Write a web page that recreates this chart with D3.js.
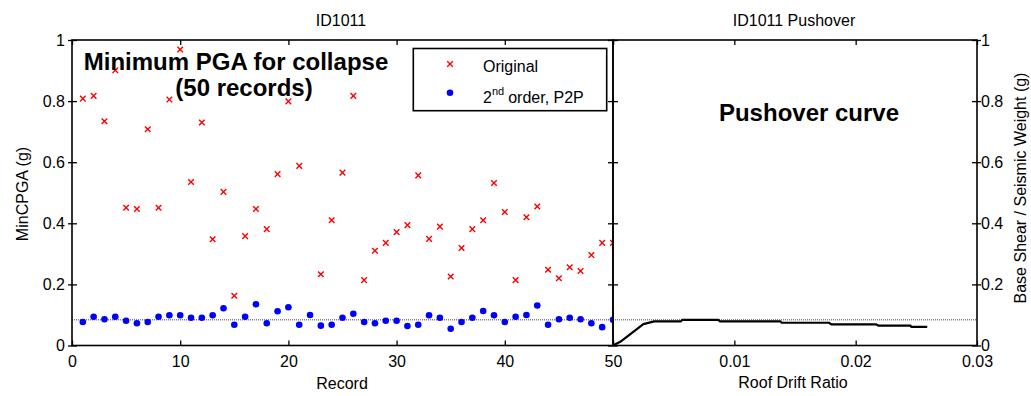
<!DOCTYPE html>
<html><head><meta charset="utf-8">
<script src="https://cdn.jsdelivr.net/npm/d3@7"></script>
<style>
body{margin:0;background:#fff;}
text{font-family:"Liberation Sans",Arial,sans-serif;}
</style></head>
<body>
<svg id="c" width="1031" height="396"></svg>
<script>
// ---- data ----
const records = [1,2,3,4,5,6,7,8,9,10,11,12,13,14,15,16,17,18,19,20,21,22,23,24,25,26,27,28,29,30,31,32,33,34,35,36,37,38,39,40,41,42,43,44,45,46,47,48,49,50];
const original = [0.808,0.817,0.734,0.901,0.451,0.447,0.708,0.451,0.805,0.969,0.535,0.730,0.348,0.503,0.163,0.358,0.447,0.381,0.561,0.799,0.588,1.05,0.233,0.410,0.566,0.817,0.214,0.310,0.336,0.371,0.394,0.557,0.349,0.389,0.226,0.319,0.381,0.410,0.532,0.437,0.214,0.420,0.455,0.248,0.220,0.256,0.244,0.296,0.336,0.336];
const secondOrder = [0.077,0.094,0.086,0.094,0.081,0.073,0.077,0.094,0.099,0.099,0.091,0.091,0.099,0.122,0.068,0.094,0.135,0.073,0.112,0.125,0.068,0.100,0.065,0.068,0.091,0.104,0.077,0.073,0.081,0.081,0.064,0.068,0.099,0.091,0.055,0.077,0.091,0.113,0.099,0.077,0.094,0.100,0.131,0.068,0.086,0.091,0.086,0.073,0.060,0.084];
const refLevel = 0.084;
const pushDrift = [0,0.0006,0.0025,0.0034,0.0056,0.0057,0.0087,0.0088,0.0138,0.0139,0.0178,0.0180,0.0217,0.0219,0.0245,0.0246,0.0259];
const pushShear = [0,0.012,0.070,0.079,0.079,0.084,0.084,0.079,0.079,0.0745,0.0745,0.069,0.069,0.065,0.065,0.061,0.061];
const yTicks = [0,0.2,0.4,0.6,0.8,1];
const xTicksL = [0,10,20,30,40,50];
const xTicksR = [0,0.01,0.02,0.03];
const xLabelsR = ["","0.01","0.02","0.03"];

const svg = d3.select("#c");
const xL = d3.scaleLinear().domain([0,50]).range([72,613]);
const xR = d3.scaleLinear().domain([0,0.03]).range([613,977]);
const y = d3.scaleLinear().domain([0,1]).range([345.5,40]);
const FS = 16;

const defs = svg.append("defs");
defs.append("clipPath").attr("id","clipL").append("rect")
  .attr("x",xL(0)).attr("y",y(1)).attr("width",xL(50)-xL(0)).attr("height",y(0)-y(1));
defs.append("clipPath").attr("id","clipR").append("rect")
  .attr("x",xR(0)).attr("y",y(1)).attr("width",xR(0.03)-xR(0)).attr("height",y(0)-y(1));

// ---- left panel marks ----
const gL = svg.append("g").attr("clip-path","url(#clipL)");
gL.append("line").attr("x1",xL(0)).attr("x2",xL(50)).attr("y1",y(refLevel)).attr("y2",y(refLevel))
  .attr("stroke","#444").attr("stroke-width",1).attr("stroke-dasharray","1,1");
const cs = 2.8;
gL.selectAll("path.x").data(records).join("path").attr("class","x")
  .attr("d",(d,i)=>{const cx=xL(d), cy=y(original[i]);
    return `M${cx-cs},${cy-cs}L${cx+cs},${cy+cs}M${cx-cs},${cy+cs}L${cx+cs},${cy-cs}`;})
  .attr("stroke","#ff0000").attr("stroke-width",1.4).attr("fill","none");
gL.selectAll("circle").data(records).join("circle")
  .attr("cx",d=>xL(d)).attr("cy",(d,i)=>y(secondOrder[i])).attr("r",3.3).attr("fill","#0000ff");

// ---- right panel marks ----
const gR = svg.append("g").attr("clip-path","url(#clipR)");
gR.append("line").attr("x1",xR(0)).attr("x2",xR(0.03)).attr("y1",y(refLevel)).attr("y2",y(refLevel))
  .attr("stroke","#444").attr("stroke-width",1).attr("stroke-dasharray","1,1");
gR.append("path").datum(pushDrift.map((d,i)=>[d,pushShear[i]]))
  .attr("d",d3.line().x(d=>xR(d[0])).y(d=>y(d[1])))
  .attr("fill","none").attr("stroke","#000").attr("stroke-width",2.2).attr("stroke-linejoin","round");

// ---- axes ----
function styleAxis(g){ g.select(".domain").remove();
  g.selectAll("line").attr("stroke","#000").attr("stroke-width",1.3);
  g.selectAll("text").attr("font-size",FS).attr("fill","#000").attr("font-family","Liberation Sans, Arial, sans-serif"); }

// left panel
svg.append("g").attr("transform",`translate(0,${y(0)})`)
  .call(d3.axisBottom(xL).tickValues(xTicksL).tickFormat(d=>String(d)).tickSizeInner(-5).tickSizeOuter(0).tickPadding(10))
  .call(styleAxis).call(g=>g.selectAll("text").attr("dy","0.71em"));
svg.append("g").attr("transform",`translate(0,${y(1)})`)
  .call(d3.axisTop(xL).tickValues(xTicksL).tickFormat("").tickSizeInner(-5).tickSizeOuter(0)).call(styleAxis);
svg.append("g").attr("transform",`translate(${xL(0)},0)`)
  .call(d3.axisLeft(y).tickValues(yTicks).tickFormat(d=>String(d)).tickSizeInner(-5).tickSizeOuter(0).tickPadding(7))
  .call(styleAxis).call(g=>g.selectAll(".tick line").attr("x1",-4));
svg.append("g").attr("transform",`translate(${xL(50)},0)`)
  .call(d3.axisRight(y).tickValues(yTicks).tickFormat("").tickSizeInner(-5).tickSizeOuter(0))
  .call(styleAxis);

// right panel
svg.append("g").attr("transform",`translate(0,${y(0)})`)
  .call(d3.axisBottom(xR).tickValues(xTicksR).tickFormat((d,i)=>xLabelsR[i]).tickSizeInner(-5).tickSizeOuter(0).tickPadding(10))
  .call(styleAxis).call(g=>g.selectAll("text").attr("dy","0.71em"));
svg.append("g").attr("transform",`translate(0,${y(1)})`)
  .call(d3.axisTop(xR).tickValues(xTicksR).tickFormat("").tickSizeInner(-5).tickSizeOuter(0)).call(styleAxis);
svg.append("g").attr("transform",`translate(${xR(0)},0)`)
  .call(d3.axisLeft(y).tickValues(yTicks).tickFormat("").tickSizeInner(-5).tickSizeOuter(0)).call(styleAxis);
svg.append("g").attr("transform",`translate(${xR(0.03)},0)`)
  .call(d3.axisRight(y).tickValues(yTicks).tickFormat(d=>String(d)).tickSizeInner(-5).tickSizeOuter(0).tickPadding(4))
  .call(styleAxis).call(g=>g.selectAll(".tick line").attr("x1",4));

// frames
svg.append("rect").attr("x",xL(0)).attr("y",y(1)).attr("width",xL(50)-xL(0)).attr("height",y(0)-y(1))
  .attr("fill","none").attr("stroke","#000").attr("stroke-width",1.6);
svg.append("rect").attr("x",xR(0)).attr("y",y(1)).attr("width",xR(0.03)-xR(0)).attr("height",y(0)-y(1))
  .attr("fill","none").attr("stroke","#000").attr("stroke-width",1.6);

// titles & labels
const txt = (x,yy,s,opt={}) => svg.append("text").attr("x",x).attr("y",yy).text(s)
  .attr("font-size",opt.fs||FS).attr("font-weight",opt.fw||"normal").attr("text-anchor",opt.anchor||"middle").attr("fill","#000");
txt(341,26,"ID1011");
txt(794,26,"ID1011 Pushover");
txt(342,389,"Record");
txt(793,388,"Roof Drift Ratio");
svg.append("text").attr("transform","translate(28,194) rotate(-90)").attr("text-anchor","middle")
  .attr("font-size",FS).text("MinCPGA (g)");
svg.append("text").attr("transform","translate(1026,188) rotate(-90)").attr("text-anchor","middle")
  .attr("font-size",FS).text("Base Shear / Seismic Weight (g)");

// annotations
txt(236,70,"Minimum PGA for collapse",{fs:24,fw:"bold"});
txt(244,96,"(50 records)",{fs:24,fw:"bold"});
txt(809,121,"Pushover curve",{fs:24,fw:"bold"});

// legend
svg.append("rect").attr("x",413.3).attr("y",48.5).attr("width",193.4).attr("height",62.2)
  .attr("fill","#fff").attr("stroke","#000").attr("stroke-width",1.6);
const lx = 450, ly1 = 64, ly2 = 92.7;
svg.append("path").attr("d",`M${lx-cs},${ly1-cs}L${lx+cs},${ly1+cs}M${lx-cs},${ly1+cs}L${lx+cs},${ly1-cs}`)
  .attr("stroke","#ff0000").attr("stroke-width",1.4);
svg.append("circle").attr("cx",lx).attr("cy",ly2).attr("r",3.3).attr("fill","#0000ff");
txt(483,72,"Original",{anchor:"start"});
const t2 = svg.append("text").attr("x",483).attr("y",103.3).attr("font-size",FS).attr("fill","#000");
t2.append("tspan").text("2");
t2.append("tspan").attr("font-size",11).attr("dy",-8).text("nd");
t2.append("tspan").attr("dy",8).attr("dx",4).text("order, P2P");
</script>
</body></html>
